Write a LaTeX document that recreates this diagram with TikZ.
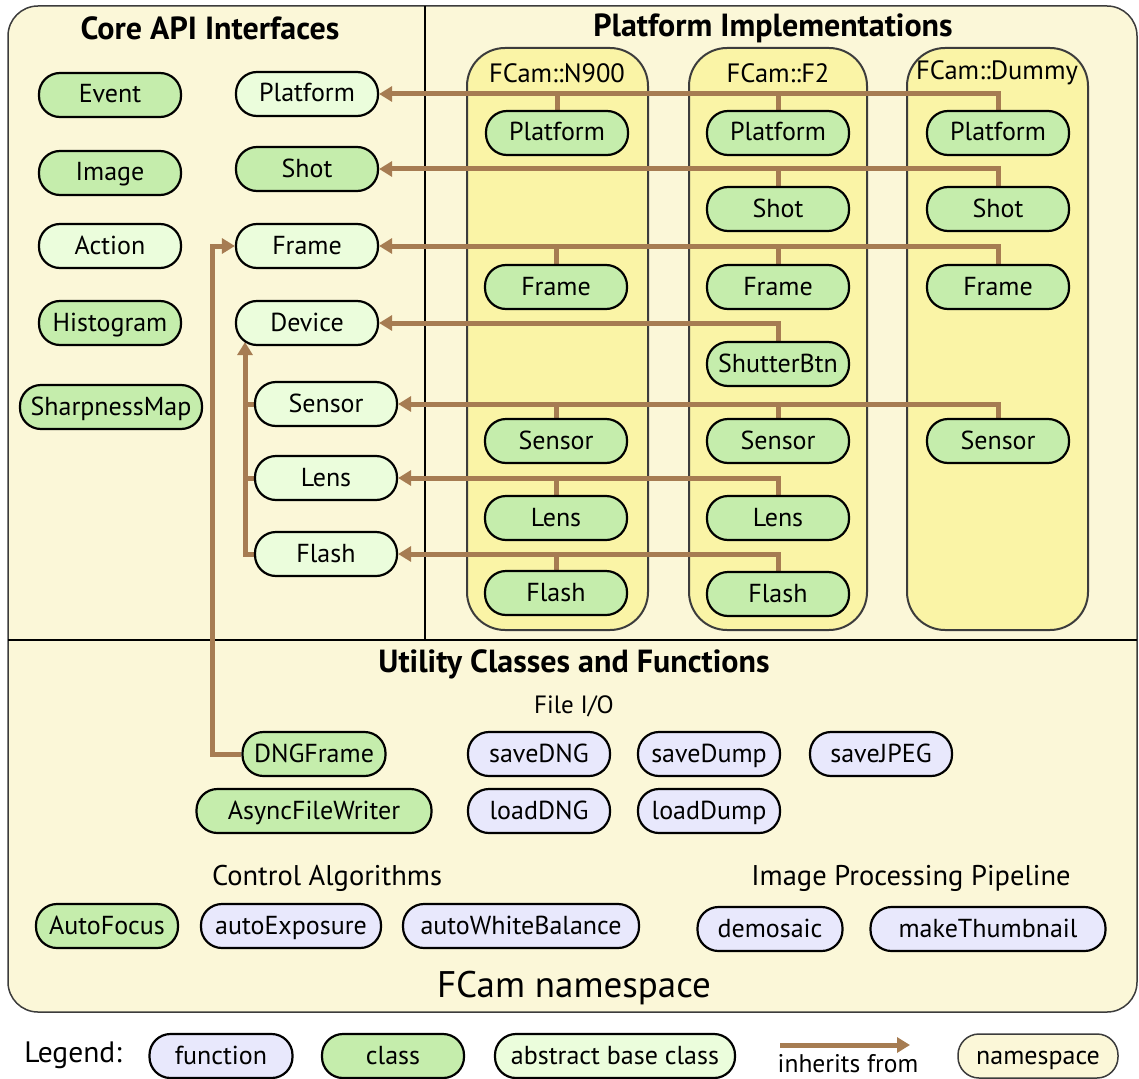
\documentclass[tikz,border=0pt]{standalone}
\usepackage{fontspec}
\setmainfont{PT Sans}
\usetikzlibrary{arrows.meta}
\definecolor{nsfill}{RGB}{251,247,216}
\definecolor{implfill}{RGB}{250,244,166}
\definecolor{clsfill}{RGB}{197,237,172}
\definecolor{absfill}{RGB}{235,253,220}
\definecolor{funfill}{RGB}{232,232,252}
\definecolor{inhcol}{RGB}{166,124,82}
\definecolor{boxline}{RGB}{60,60,60}
\pgfdeclarelayer{back}
\pgfdeclarelayer{mid}
\pgfsetlayers{back,mid,main}
\begin{document}
\begin{tikzpicture}[x=1pt,y=-1pt,
  pill/.style={rectangle, rounded corners=21pt, draw=black, line width=2.2pt, minimum height=44pt,
    minimum width=142pt, inner xsep=6pt, inner ysep=0pt, text height=20pt, text depth=4pt,
    font=\fontsize{26}{30}\selectfont},
  cls/.style={pill, fill=clsfill},
  abs/.style={pill, fill=absfill},
  fun/.style={pill, fill=funfill},
  inh/.style={draw=inhcol, line width=5pt, -{Triangle[length=13pt,width=15pt]}},
  tee/.style={draw=inhcol, line width=5pt},
  implbox/.style={draw=boxline, line width=2pt, fill=implfill, rounded corners=38pt},
  headtxt/.style={font=\bfseries\fontsize{32}{36}\selectfont},
  grouplbl/.style={font=\fontsize{28.5}{32}\selectfont},
  pkglbl/.style={font=\fontsize{26.5}{30}\selectfont},
]
\useasboundingbox (0,0) rectangle (1139,1078);

% namespace frame, implementation boxes and dividers
\begin{pgfonlayer}{back}
  \draw[draw=boxline, line width=1.5pt, fill=nsfill, rounded corners=30pt] (8,6) rectangle (1137,1012);
  \draw[implbox] (467,48) rectangle (648,630);
  \draw[implbox] (689,48) rectangle (867,630);
  \draw[implbox] (907,48) rectangle (1088,630);
  \draw[line width=2pt] (425,6) -- (425,640);
  \draw[line width=2pt] (8,640) -- (1137,640);
\end{pgfonlayer}

% headings
\node[headtxt] (tcore) at (210,28) {Core API Interfaces};
\node[headtxt] (tplat) at (773,28) {Platform Implementations};
\node[pkglbl] (tn900) at (557,73) {FCam::N900};
\node[pkglbl] (tf2) at (778,73) {FCam::F2};
\node[pkglbl] (tdummy) at (997,73) {FCam::Dummy};
\node[headtxt] (tutil) at (574,664) {Utility Classes and Functions};
\node[font=\fontsize{25}{30}\selectfont] (tfio) at (574,706) {File I/O};
\node[grouplbl] (tctl) at (327,878) {Control Algorithms};
\node[grouplbl] (tipp) at (911,878) {Image Processing Pipeline};
\node[font=\fontsize{37}{42}\selectfont] (tns) at (574,988) {FCam namespace};

% core API
\node[cls] (event) at (110,95) {Event};
\node[cls] (image) at (110,173) {Image};
\node[abs] (action) at (110,246) {Action};
\node[cls] (histo) at (110,323) {Histogram};
\node[cls, minimum width=182pt] (sharp) at (111,407) {SharpnessMap};
\node[abs] (cplat) at (307,94) {Platform};
\node[cls] (cshot) at (307,169) {Shot};
\node[abs] (cframe) at (307,246) {Frame};
\node[abs] (cdev) at (307,323) {Device};
\node[abs] (csens) at (326,404) {Sensor};
\node[abs] (clens) at (326,478) {Lens};
\node[abs] (cflash) at (326,554) {Flash};
\coordinate (devfoot) at ([xshift=-62pt,yshift=4pt]cdev.south);

% FCam::N900
\node[cls] (n9plat) at (557,133) {Platform};
\node[cls] (n9frame) at (556,287) {Frame};
\node[cls] (n9sens) at (556,441) {Sensor};
\node[cls] (n9lens) at (556,518) {Lens};
\node[cls] (n9flash) at (556,593) {Flash};

% FCam::F2
\node[cls] (f2plat) at (778,133) {Platform};
\node[cls] (f2shot) at (778,209) {Shot};
\node[cls] (f2frame) at (778,287) {Frame};
\node[cls] (f2shut) at (778,364) {ShutterBtn};
\node[cls] (f2sens) at (778,441) {Sensor};
\node[cls] (f2lens) at (778,518) {Lens};
\node[cls] (f2flash) at (778,594) {Flash};

% FCam::Dummy
\node[cls] (dplat) at (998,133) {Platform};
\node[cls] (dshot) at (998,209) {Shot};
\node[cls] (dframe) at (998,287) {Frame};
\node[cls] (dsens) at (998,441) {Sensor};

% utilities
\node[cls, minimum width=143pt] (dng) at (314,754) {DNGFrame};
\node[cls, minimum width=235pt] (afw) at (314,811) {AsyncFileWriter};
\node[fun] (savedng) at (539,754) {saveDNG};
\node[fun] (loaddng) at (539,811) {loadDNG};
\node[fun] (savedump) at (709,754) {saveDump};
\node[fun] (loaddump) at (709,811) {loadDump};
\node[fun] (savejpeg) at (881,754) {saveJPEG};
\node[cls] (autofocus) at (107,926) {AutoFocus};
\node[fun, minimum width=180pt] (autoexp) at (291,926) {autoExposure};
\node[fun, minimum width=236pt] (autowb) at (521,926) {autoWhiteBalance};
\node[fun, minimum width=145pt] (demosaic) at (770,929) {demosaic};
\node[fun, minimum width=235pt] (thumb) at (988,929) {makeThumbnail};

% legend
\node[font=\fontsize{29.5}{34}\selectfont] (lgtxt) at (73,1055) {Legend:};
\node[fun, minimum width=143pt] (lgfun) at (221,1056) {function};
\node[cls] (lgcls) at (393,1056) {class};
\node[abs, minimum width=240pt] (lgabs) at (615,1056) {abstract base class};
\coordinate (lgs) at (780,1045);
\coordinate (lge) at (910,1045);
\node[font=\fontsize{25.5}{30}\selectfont] (lginh) at (848,1064) {inherits from};
\node[pill, draw=boxline, line width=1.5pt, fill=nsfill, minimum width=160pt] (lgns) at (1038,1056) {namespace};

% inheritance connectors
\begin{pgfonlayer}{mid}
  \draw[inh] (dplat.north) |- (cplat.east);
  \draw[tee] (n9plat.north) -- (n9plat.north |- cplat.east);
  \draw[tee] (f2plat.north) -- (f2plat.north |- cplat.east);

  \draw[inh] (dshot.north) |- (cshot.east);
  \draw[tee] (f2shot.north) -- (f2shot.north |- cshot.east);

  \draw[inh] (dframe.north) |- (cframe.east);
  \draw[tee] (n9frame.north) -- (n9frame.north |- cframe.east);
  \draw[tee] (f2frame.north) -- (f2frame.north |- cframe.east);

  \draw[inh] (f2shut.north) |- (cdev.east);

  \draw[inh] (dsens.north) |- (csens.east);
  \draw[tee] (n9sens.north) -- (n9sens.north |- csens.east);
  \draw[tee] (f2sens.north) -- (f2sens.north |- csens.east);

  \draw[inh] (f2lens.north) |- (clens.east);
  \draw[tee] (n9lens.north) -- (n9lens.north |- clens.east);

  \draw[inh] (f2flash.north) |- (cflash.east);
  \draw[tee] (n9flash.north) -- (n9flash.north |- cflash.east);

  \draw[inh] (cflash.west) -| (devfoot);
  \draw[tee] (csens.west) -- (csens.west -| devfoot);
  \draw[tee] (clens.west) -- (clens.west -| devfoot);

  \draw[inh] (dng.west) -- ++(-29,0) |- (cframe.west);

  \draw[inh] (lgs) -- (lge);
\end{pgfonlayer}
\end{tikzpicture}
\end{document}
